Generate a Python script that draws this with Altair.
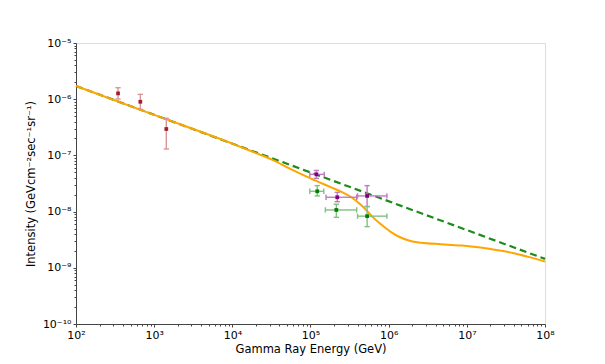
import altair as alt
import pandas as pd

# ---- data ----
model_energy = [1e2, 1e3, 1e4, 2.0e4, 3.16e4, 5.6e4, 1e5, 1.78e5, 2.5e5, 3.3e5, 4.4e5,
                5.2e5, 6.3e5, 7.9e5, 1.05e6, 1.4e6, 1.9e6, 2.6e6, 4.6e6, 7.9e6, 1e7,
                2.0e7, 4.0e7, 6.3e7, 1e8]
model_intensity = [1.72e-6, 5.27e-7, 1.62e-7, 1.10e-7, 8.5e-8, 5.7e-8, 3.9e-8, 2.75e-8,
                   2.24e-8, 1.82e-8, 1.32e-8, 1.05e-8, 7.9e-9, 6.0e-9, 4.4e-9, 3.5e-9,
                   3.0e-9, 2.8e-9, 2.63e-9, 2.5e-9, 2.45e-9, 2.16e-9, 1.82e-9, 1.55e-9, 1.29e-9]

powerlaw_energy = [1e2, 1e8]
powerlaw_intensity = [1.72e-6, 1.44e-9]

red_energy = [345, 665, 1430]
red_intensity = [1.27e-6, 9.0e-7, 2.95e-7]
red_low = [1.01e-6, 6.6e-7, 1.3e-7]
red_high = [1.6e-6, 1.22e-6, 4.57e-7]

purple_energy = [1.19e5, 2.2e5, 5.3e5]
purple_energy_low = [9.8e4, 1.58e5, 4.0e5]
purple_energy_high = [1.5e5, 3.9e5, 9.5e5]
purple_intensity = [4.6e-8, 1.8e-8, 1.9e-8]
purple_low = [3.9e-8, 1.5e-8, 1.23e-8]
purple_high = [5.4e-8, 2.2e-8, 2.9e-8]

green_energy = [1.22e5, 2.14e5, 5.3e5]
green_energy_low = [9.8e4, 1.55e5, 4.0e5]
green_energy_high = [1.48e5, 3.9e5, 9.5e5]
green_intensity = [2.3e-8, 1.07e-8, 8.3e-9]
green_low = [1.9e-8, 7.9e-9, 5.4e-9]
green_high = [2.9e-8, 1.35e-8, 1.23e-8]

x_major = [1e2, 1e3, 1e4, 1e5, 1e6, 1e7, 1e8]
y_major = [1e-10, 1e-9, 1e-8, 1e-7, 1e-6, 1e-5]
x_minor = [m * 10.0 ** k for k in range(2, 8) for m in range(2, 10)]
y_minor = [m * 10.0 ** k for k in range(-10, -5) for m in range(2, 10)]

FONT = "DejaVu Sans"
AX = "#444444"

xscale = alt.Scale(type="log", domain=[1e2, 1e8], nice=False)
yscale = alt.Scale(type="log", domain=[1e-10, 1e-5], nice=False)

sup = "['⁰','¹','²','³','⁴','⁵','⁶','⁷','⁸','⁹']"
x_axis = alt.Axis(values=x_major, title="Gamma Ray Energy (GeV)", grid=False,
                  labelExpr="'10' + " + sup + "[round(log(datum.value)/LN10)]",
                  tickSize=3, tickColor=AX, domainColor=AX, labelPadding=2,
                  labelFont=FONT, labelFontSize=11, labelColor="#000",
                  titleFont=FONT, titleFontSize=11.5, titleFontWeight="normal",
                  titleColor="#000", titlePadding=3, orient="bottom", labelFlush=False)
y_axis = alt.Axis(values=y_major, title="Intensity (GeVcm⁻²sec⁻¹sr⁻¹)", grid=False,
                  labelExpr="'10⁻' + (round(-log(datum.value)/LN10) == 10 ? '¹⁰' : "
                            + sup + "[round(-log(datum.value)/LN10)])",
                  tickSize=3, tickColor=AX, domainColor=AX, labelPadding=2,
                  labelFont=FONT, labelFontSize=11, labelColor="#000",
                  titleFont=FONT, titleFontSize=11.5, titleFontWeight="normal",
                  titleColor="#000", titlePadding=6, orient="left", labelFlush=False)
x_minor_axis = alt.Axis(values=x_minor, labels=False, title=None, grid=False, domain=False,
                        tickSize=2, tickColor=AX, orient="bottom")
y_minor_axis = alt.Axis(values=y_minor, labels=False, title=None, grid=False, domain=False,
                        tickSize=2, tickColor=AX, orient="left")


def X(f):
    return alt.X(f, type="quantitative", scale=xscale, axis=x_axis)


def Y(f):
    return alt.Y(f, type="quantitative", scale=yscale, axis=y_axis)


model_df = pd.DataFrame({"E": model_energy, "I": model_intensity})
pl_df = pd.DataFrame({"E": powerlaw_energy, "I": powerlaw_intensity})

dashed = alt.Chart(pl_df).mark_line(color="#1a8c1a", strokeWidth=2.2, strokeDash=[7, 4]).encode(
    x=X("E"), y=Y("I"))
model = alt.Chart(model_df).mark_line(color="#FFA500", strokeWidth=2, interpolate="monotone").encode(
    x=X("E"), y=Y("I"))


def points(df, mcolor, bcolor, horiz):
    cap = dict(filled=False, color=bcolor, size=28, strokeWidth=1.4, opacity=1)
    layers = [
        alt.Chart(df).mark_rule(color=bcolor, strokeWidth=1.4).encode(x=X("E"), y=Y("lo"), y2="hi"),
        alt.Chart(df).mark_point(shape="M-1,0L1,0", **cap).encode(x=X("E"), y=Y("lo")),
        alt.Chart(df).mark_point(shape="M-1,0L1,0", **cap).encode(x=X("E"), y=Y("hi")),
    ]
    if horiz:
        layers += [
            alt.Chart(df).mark_rule(color=bcolor, strokeWidth=1.4).encode(x=X("elo"), x2="ehi", y=Y("I")),
            alt.Chart(df).mark_point(shape="M0,-1L0,1", **cap).encode(x=X("elo"), y=Y("I")),
            alt.Chart(df).mark_point(shape="M0,-1L0,1", **cap).encode(x=X("ehi"), y=Y("I")),
        ]
    layers.append(alt.Chart(df).mark_point(shape="square", filled=True, color=mcolor, size=14,
                                           opacity=1).encode(x=X("E"), y=Y("I")))
    return layers


red_df = pd.DataFrame({"E": red_energy, "I": red_intensity, "lo": red_low, "hi": red_high})
purple_df = pd.DataFrame({"E": purple_energy, "I": purple_intensity, "lo": purple_low,
                          "hi": purple_high, "elo": purple_energy_low, "ehi": purple_energy_high})
green_df = pd.DataFrame({"E": green_energy, "I": green_intensity, "lo": green_low,
                         "hi": green_high, "elo": green_energy_low, "ehi": green_energy_high})

main = alt.layer(
    dashed, model,
    *points(red_df, "#a51f2a", "#d99499", False),
    *points(purple_df, "#800080", "#c07ac0", True),
    *points(green_df, "#008000", "#80c080", True),
)

minor = alt.Chart(pl_df).mark_line(opacity=0).encode(
    x=alt.X("E", type="quantitative", scale=xscale, axis=x_minor_axis),
    y=alt.Y("I", type="quantitative", scale=yscale, axis=y_minor_axis),
)

chart = alt.layer(main, minor).resolve_axis(x="independent", y="independent").properties(
    width=469, height=281,
    padding={"left": 68, "top": 35, "right": 50, "bottom": 32},
    autosize=alt.AutoSizeParams(type="none"),
).configure_view(stroke=AX, strokeWidth=1).configure(background="white")

chart.save("out.html", embed_options={"renderer": "svg", "actions": False})
